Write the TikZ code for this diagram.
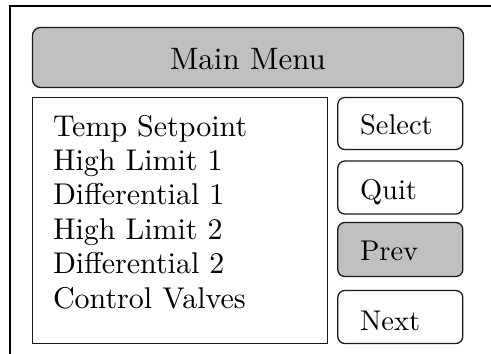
\documentclass[tikz,border=0pt]{standalone}
\usepackage{fontspec}
\setmainfont{lmroman10-regular.otf}
\definecolor{panelgray}{HTML}{C0C0C0}
\definecolor{edge}{HTML}{1A1A1A}
\tikzset{
  box/.style={draw=edge, line width=1.3pt, inner sep=0pt, outer sep=0pt},
  rbox/.style={box, rounded corners=8pt},
  txt/.style={inner sep=0pt, outer sep=0pt, anchor=base west, font=\fontsize{30}{34.4}\selectfont},
  btntxt/.style={txt, font=\fontsize{28.5}{34}\selectfont},
}
\begin{document}
\begin{tikzpicture}[x=1pt, y=-1pt]
\useasboundingbox (0,0) rectangle (491,354);
% outer frame (top and left only)
\coordinate (ftl) at (9.5,5.8);
\coordinate (ftr) at (491,5.8);
\coordinate (fbl) at (9.5,354);
\draw[line width=2pt] (fbl) -- (ftl) -- (ftr);
% title bar
\node[rbox, fill=panelgray, minimum width=431, minimum height=60] (main) at (248,57.5) {};
\node[inner sep=0pt, anchor=base, font=\fontsize{31}{34}\selectfont] (maintxt) at (248,69) {Main Menu};
% list box
\node[box, fill=white, minimum width=295, minimum height=246] (list) at (180,220.5) {};
\node[txt] (l1) at (53,136) {Temp Setpoint};
\node[txt] (l2) at (53,170.4) {High Limit 1};
\node[txt] (l3) at (53,204.8) {Differential 1};
\node[txt] (l4) at (53,239.2) {High Limit 2};
\node[txt] (l5) at (53,273.6) {Differential 2};
\node[txt] (l6) at (53,308) {Control Valves};
% buttons
\node[rbox, rounded corners=7pt, minimum width=125, minimum height=52] (select) at (400.3,123.5) {};
\node[btntxt] (selecttxt) at (360,134) {Select};
\node[rbox, rounded corners=7pt, minimum width=125, minimum height=53] (quit) at (400.3,187.5) {};
\node[btntxt] (quittxt) at (360,199) {Quit};
\node[rbox, rounded corners=7pt, fill=panelgray, minimum width=125, minimum height=54] (prev) at (400.3,249.5) {};
\node[btntxt] (prevtxt) at (360,260.5) {Prev};
\node[rbox, rounded corners=7pt, minimum width=125, minimum height=53] (next) at (400.3,317) {};
\node[btntxt] (nexttxt) at (360,330.5) {Next};
\end{tikzpicture}
\end{document}
